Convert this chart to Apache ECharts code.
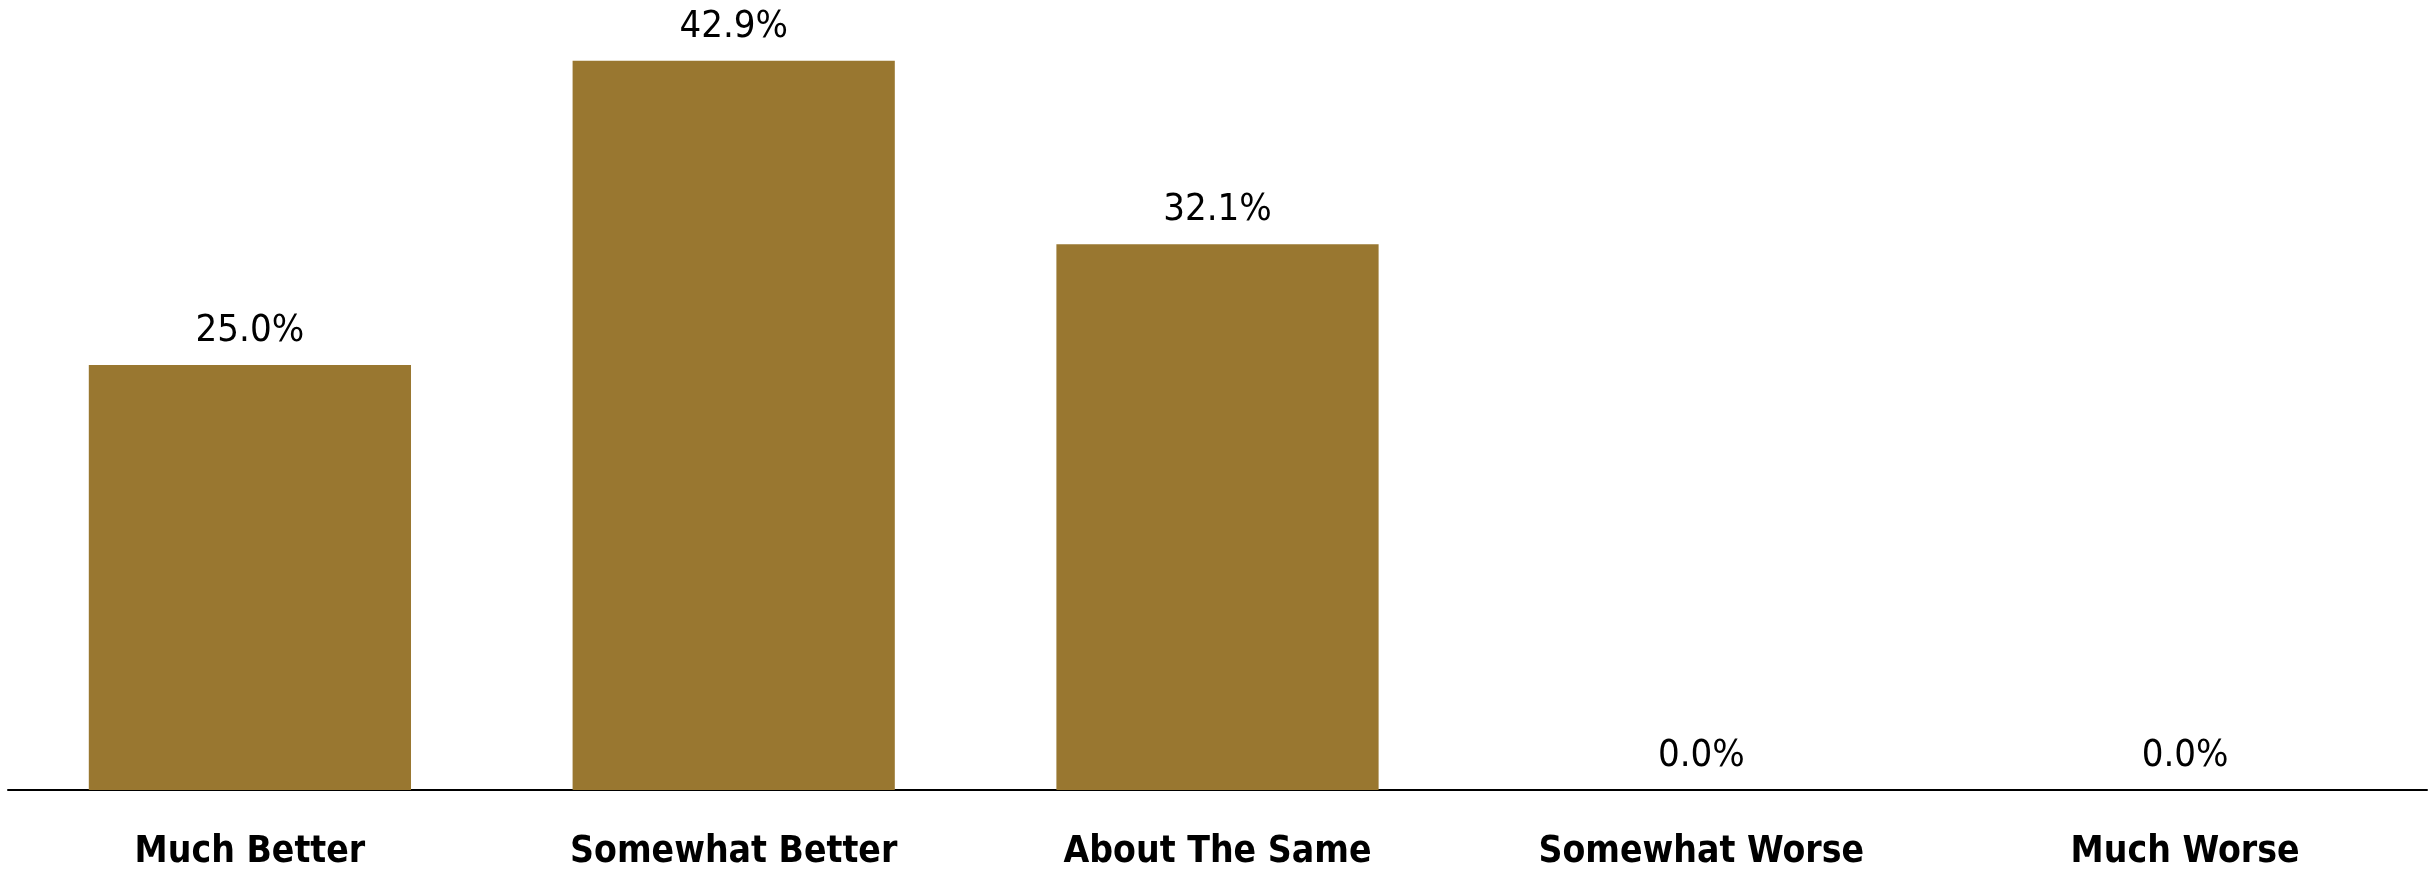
<!DOCTYPE html>
<html><head><meta charset="utf-8">
<script src="https://cdn.jsdelivr.net/npm/echarts@6/dist/echarts.min.js"></script>
<style>html,body{margin:0;padding:0;background:#fff}#c{width:2435px;height:875px}</style>
</head><body><div id="c"></div>
<script>
const categories = ['Much Better', 'Somewhat Better', 'About The Same', 'Somewhat Worse', 'Much Worse'];
const values = [25.0, 42.9, 32.1, 0.0, 0.0];

const chart = echarts.init(document.getElementById('c'));
const FONT = '"Liberation Sans Narrow", "DejaVu Sans Condensed", "Liberation Sans", sans-serif';
chart.setOption({
  animation: false,
  grid: { left: 8, right: 8, top: 25, bottom: 85, containLabel: false },
  xAxis: {
    type: 'category', data: categories,
    axisLine: { lineStyle: { color: '#000', width: 2 } },
    axisTick: { show: false },
    axisLabel: { interval: 0, color: '#000', fontFamily: FONT, fontSize: 37, fontWeight: 'bold', margin: 44 }
  },
  yAxis: { type: 'value', min: 0, max: 45, show: false, splitLine: { show: false } },
  series: [{
    type: 'bar', data: values, barCategoryGap: '33.4%',
    itemStyle: { color: '#997730' },
    label: { show: true, position: 'top', distance: 15, color: '#000', fontFamily: FONT, fontSize: 38,
      formatter: p => p.value.toFixed(1) + '%' }
  }]
});
</script></body></html>
